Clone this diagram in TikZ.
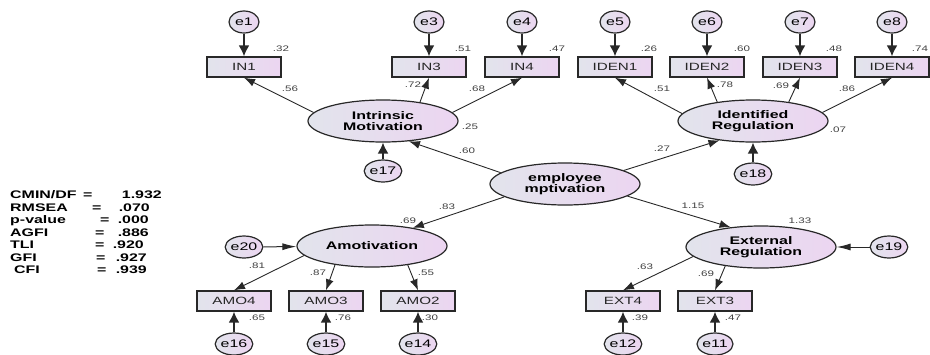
\documentclass[tikz,border=0pt]{standalone}
\usepackage{fontspec}
\setmainfont{Liberation Sans}[FakeStretch=1.45]
\usetikzlibrary{shapes.geometric,arrows.meta}
\definecolor{boxleft}{RGB}{226,228,236}
\definecolor{boxright}{RGB}{236,213,241}
\definecolor{linegray}{RGB}{40,40,40}

\begin{document}
\begin{tikzpicture}[x=1pt,y=-1pt]
\tikzset{latent/.style={draw=linegray, ellipse, line width=1.2pt, minimum width=150pt, minimum height=42pt, inner sep=0pt, left color=boxleft, right color=boxright, align=center, font=\fontsize{11}{11.5}\selectfont\bfseries},
  obsbox/.style={draw=linegray, rectangle, line width=1.4pt, minimum width=74pt, minimum height=20pt, inner sep=0pt, left color=boxleft, right color=boxright, text=black!85, font=\fontsize{10.5}{11}\selectfont},
  errc/.style={draw=linegray, ellipse, line width=1.2pt, minimum width=30pt, minimum height=22pt, inner sep=0pt, left color=boxleft, right color=boxright, font=\fontsize{11}{11}\selectfont},
  coef/.style={inner sep=0pt, text=black!75, font=\fontsize{8}{9}\selectfont},
  fitt/.style={inner sep=0pt, font=\fontsize{11}{12}\selectfont\bfseries},
  load/.style={draw=linegray, line width=0.9pt, -{Latex[length=11pt,width=8pt]}},
  errarr/.style={draw=linegray, line width=1.6pt, -{Latex[length=11pt,width=11pt]}},
  herr/.style={draw=linegray, line width=1pt, -{Latex[length=14pt,width=7pt]}}}
\useasboundingbox (0,0) rectangle (930,354);
% latent variables
\node[latent] (emp) at (565,184) {employee\\mptivation};
\node[latent] (intr) at (383,121) {Intrinsic\\Motivation};
\node[latent] (iden) at (753,121) {Identified\\Regulation};
\node[latent] (amot) at (372,246) {Amotivation};
\node[latent] (extr) at (761,247) {External\\Regulation};
% observed
\node[obsbox] (in1) at (244,67) {IN1};
\node[obsbox] (in3) at (429,67) {IN3};
\node[obsbox] (in4) at (522,67) {IN4};
\node[obsbox] (iden1) at (615,67) {IDEN1};
\node[obsbox] (iden2) at (707,67) {IDEN2};
\node[obsbox] (iden3) at (800,67) {IDEN3};
\node[obsbox] (iden4) at (892,67) {IDEN4};
\node[obsbox] (amo4) at (234,301) {AMO4};
\node[obsbox] (amo3) at (326,301) {AMO3};
\node[obsbox] (amo2) at (418,301) {AMO2};
\node[obsbox] (ext4) at (623,301) {EXT4};
\node[obsbox] (ext3) at (715,301) {EXT3};
% errors
\node[errc] (e1) at (244,22) {e1};
\node[errc] (e3) at (429,22) {e3};
\node[errc] (e4) at (522,22) {e4};
\node[errc] (e5) at (615,22) {e5};
\node[errc] (e6) at (707,22) {e6};
\node[errc] (e7) at (800,22) {e7};
\node[errc] (e8) at (892,22) {e8};
\node[errc] (e17) at (383,171) {e17};
\node[errc] (e18) at (753,174) {e18};
\node[errc] (e20) at (244,247) {e20};
\node[errc] (e19) at (889,247) {e19};
\node[errc] (e16) at (234,344) {e16};
\node[errc] (e15) at (326,344) {e15};
\node[errc] (e14) at (418,344) {e14};
\node[errc] (e12) at (623,344) {e12};
\node[errc] (e11) at (715,344) {e11};
\draw[errarr] (e1) -- (in1);
\draw[errarr] (e3) -- (in3);
\draw[errarr] (e4) -- (in4);
\draw[errarr] (e5) -- (iden1);
\draw[errarr] (e6) -- (iden2);
\draw[errarr] (e7) -- (iden3);
\draw[errarr] (e8) -- (iden4);
\draw[errarr] (e17) -- (intr);
\draw[errarr] (e18) -- (iden);
\draw[errarr] (e16) -- (amo4);
\draw[errarr] (e15) -- (amo3);
\draw[errarr] (e14) -- (amo2);
\draw[errarr] (e12) -- (ext4);
\draw[errarr] (e11) -- (ext3);
\draw[herr] (e20) -- (amot);
\draw[herr] (e19) -- (extr);
% loadings
\draw[load] (intr.173) -- (in1.south);
\draw[load] (intr.27) -- (in3.south);
\draw[load] (intr.7) -- (in4.south);
\draw[load] (iden.174) -- (iden1.south);
\draw[load] (iden.152) -- (iden2.south);
\draw[load] (iden.28) -- (iden3.south);
\draw[load] (iden.7) -- (iden4.south);
\draw[load] (emp.170) -- (intr.-38);
\draw[load] (emp.13) -- (iden.-150);
\draw[load] (emp.-168) -- (amot.24);
\draw[load] (emp.-11) -- (extr.147);
\draw[load] (amot.188) -- (amo4.north);
\draw[load] (amot.-153) -- (amo3.north);
\draw[load] (amot.-28) -- (amo2.north);
\draw[load] (extr.188) -- (ext4.north);
\draw[load] (extr.-152) -- (ext3.north);
% estimates
\node[coef] (r1) at (281,49) {.32};
\node[coef] (r3) at (463,49) {.51};
\node[coef] (r4) at (557,49) {.47};
\node[coef] (r5) at (649,49) {.26};
\node[coef] (r6) at (742,49) {.60};
\node[coef] (r7) at (834,49) {.48};
\node[coef] (r8) at (920,49) {.74};
\node[coef] (l1) at (290,89) {.56};
\node[coef] (l3) at (413,85) {.72};
\node[coef] (l4) at (477,89) {.68};
\node[coef] (l5) at (662,89) {.51};
\node[coef] (l6) at (725,85) {.78};
\node[coef] (l7) at (781,86) {.69};
\node[coef] (l8) at (847,89) {.86};
\node[coef] (rintr) at (470,127) {.25};
\node[coef] (riden) at (838,130) {.07};
\node[coef] (pintr) at (467,151) {.60};
\node[coef] (piden) at (662,149) {.27};
\node[coef] (pamot) at (447,207) {.83};
\node[coef] (ramot) at (408,221) {.69};
\node[coef] (pextr) at (693,206) {1.15};
\node[coef] (rextr) at (800,221) {1.33};
\node[coef] (l16) at (257,266) {.81};
\node[coef] (l15) at (318,273) {.87};
\node[coef] (l14) at (426,273) {.55};
\node[coef] (l12) at (645,267) {.63};
\node[coef] (l11) at (706,274) {.69};
\node[coef] (r16) at (257,318) {.65};
\node[coef] (r15) at (343,318) {.76};
\node[coef] (r14) at (430,318) {.30};
\node[coef] (r12) at (640,318) {.39};
\node[coef] (r11) at (733,318) {.47};
% fit indices
\foreach \yy/\lab/\xl/\xe/\xv/\val [count=\i] in {198/{CMIN/DF}/10/83/162/1.932, 211/RMSEA/10/92/150/.070, 223/p-value/10/100/149/.000, 236/AGFI/10/95/149/.886, 248/TLI/10/95/144/.920, 261/GFI/10/96/147/.927, 273/CFI/14/97/147/.939}{
  \node[fitt, anchor=base west] (fitlab\i) at (\xl,\yy) {\lab};
  \node[fitt, anchor=base west] (fiteq\i) at (\xe,\yy) {=};
  \node[fitt, anchor=base east] (fitval\i) at (\xv,\yy) {\val};
}
\end{tikzpicture}
\end{document}
